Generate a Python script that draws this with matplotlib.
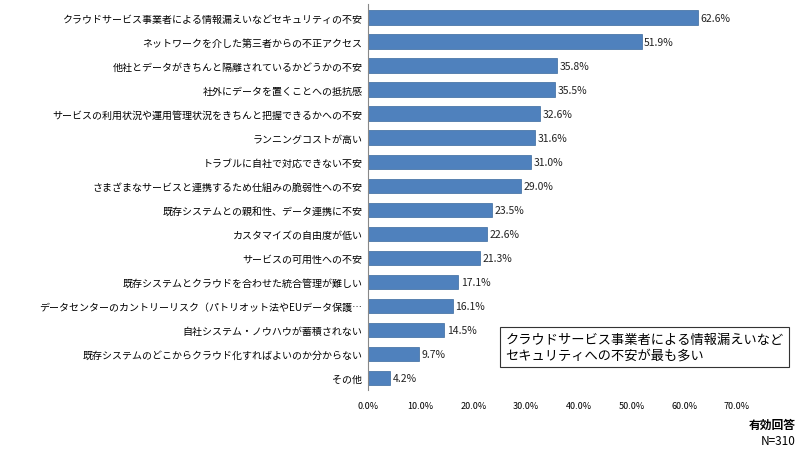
import matplotlib
matplotlib.use("Agg")
import matplotlib.pyplot as plt

plt.rcParams['font.family'] = ['Noto Sans CJK JP', 'DejaVu Sans']

categories = [
    "クラウドサービス事業者による情報漏えいなどセキュリティの不安",
    "ネットワークを介した第三者からの不正アクセス",
    "他社とデータがきちんと隔離されているかどうかの不安",
    "社外にデータを置くことへの抵抗感",
    "サービスの利用状況や運用管理状況をきちんと把握できるかへの不安",
    "ランニングコストが高い",
    "トラブルに自社で対応できない不安",
    "さまざまなサービスと連携するため仕組みの脆弱性への不安",
    "既存システムとの親和性、データ連携に不安",
    "カスタマイズの自由度が低い",
    "サービスの可用性への不安",
    "既存システムとクラウドを合わせた統合管理が難しい",
    "データセンターのカントリーリスク（パトリオット法やEUデータ保護…",
    "自社システム・ノウハウが蓄積されない",
    "既存システムのどこからクラウド化すればよいのか分からない",
    "その他",
]
values = [62.6, 51.9, 35.8, 35.5, 32.6, 31.6, 31.0, 29.0, 23.5, 22.6, 21.3, 17.1, 16.1, 14.5, 9.7, 4.2]
ticks = [0, 10, 20, 30, 40, 50, 60, 70]

fig = plt.figure(figsize=(8, 4.52), dpi=100)
ax = fig.add_axes([0.46, 0.135, 0.4612, 0.855])
y = list(range(len(values)))
ax.barh(y, values, height=0.62, color='#4F81BD', edgecolor='#3A6A9E', linewidth=0.5)
for yi, v in zip(y, values):
    ax.text(v + 0.5, yi, f"{v:.1f}%", va='center', ha='left', fontsize=7.5, color='#222222')
ax.set_yticks(y)
ax.set_yticklabels(categories, fontsize=7.2)
ax.invert_yaxis()
ax.set_ylim(len(values) - 0.5, -0.6)
ax.set_xlim(0, 70)
ax.set_xticks(ticks)
ax.set_xticklabels([f"{t:.1f}%" for t in ticks], fontsize=6.5)
ax.tick_params(axis='y', length=0, pad=4)
ax.tick_params(axis='x', length=0, pad=8)
for s in ['top', 'right', 'bottom']:
    ax.spines[s].set_visible(False)
ax.spines['left'].set_color('#888888')

fig.text(0.632, 0.230, "クラウドサービス事業者による情報漏えいなど\nセキュリティへの不安が最も多い",
         fontsize=9.5, va='center', ha='left', linespacing=1.3,
         bbox=dict(boxstyle='square,pad=0.4', fc='white', ec='#333333', lw=0.8))
fig.text(0.995, 0.052, "有効回答", fontsize=8.5, ha='right', fontweight='bold')
fig.text(0.995, 0.015, "N=310", fontsize=8.5, ha='right')

fig.savefig("out.png", dpi=100)
